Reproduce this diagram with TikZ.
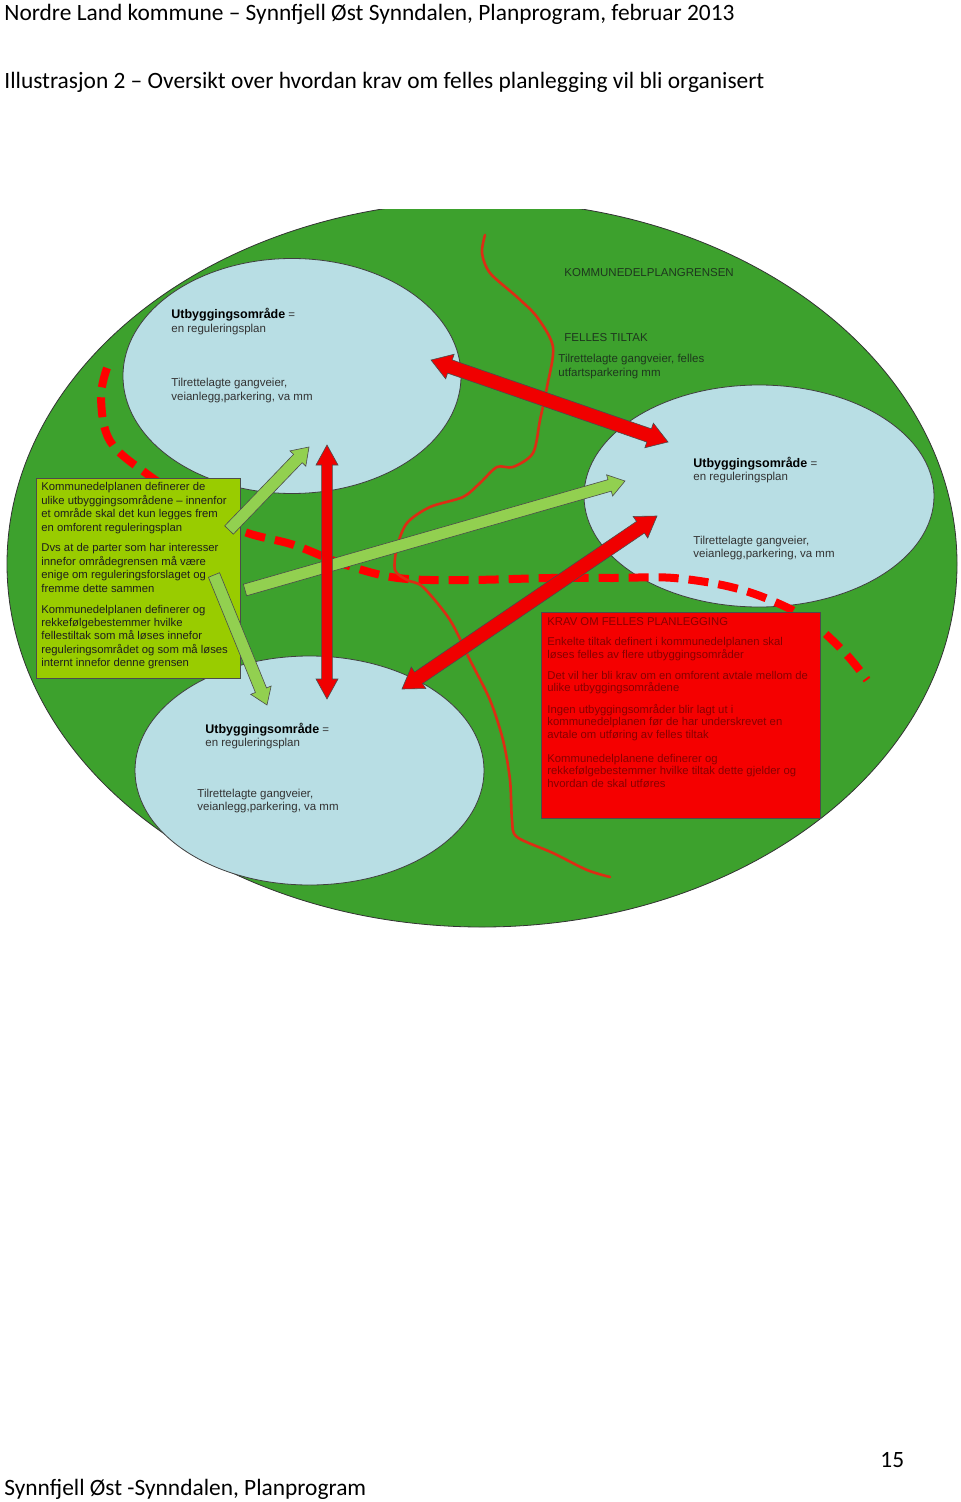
\documentclass[tikz,border=0pt]{standalone}
\usepackage{fontspec}
\setmainfont{Liberation Sans}
\newfontfamily\calfont{Carlito}
\usetikzlibrary{calc,shapes.geometric}
\definecolor{outergreen}{RGB}{61,161,45}
\definecolor{areablue}{RGB}{184,222,228}
\definecolor{boxgreen}{RGB}{153,204,0}
\definecolor{boxred}{RGB}{245,0,0}
\definecolor{arrowgreen}{RGB}{146,208,80}
\definecolor{arrowred}{RGB}{240,0,0}
\definecolor{linered}{RGB}{220,45,20}
\definecolor{txtgray}{RGB}{50,50,50}
\definecolor{txtdark}{RGB}{30,30,30}
\definecolor{txtred}{RGB}{135,0,0}
\definecolor{txtgreen}{RGB}{30,55,30}
% single block arrow: start, tip, half shaft, half head, head length, style
\newcommand\singleblockarrow[6]{%
  \coordinate (#2-hb) at ($(#2)!#5!(#1)$);
  \filldraw[#6] ($(#1)!#3!90:(#2)$) -- ($(#2-hb)!#3!90:(#2)$) -- ($(#2-hb)!#4!90:(#2)$) -- (#2)
    -- ($(#2-hb)!#4!-90:(#2)$) -- ($(#2-hb)!#3!-90:(#2)$) -- ($(#1)!#3!-90:(#2)$) -- cycle;
}
% double block arrow: tip1, tip2, half shaft, half head, head length, style
\newcommand\doubleblockarrow[6]{%
  \coordinate (#1-ha) at ($(#1)!#5!(#2)$);
  \coordinate (#2-hb) at ($(#2)!#5!(#1)$);
  \filldraw[#6] (#1) -- ($(#1-ha)!#4!90:(#2)$) -- ($(#1-ha)!#3!90:(#2)$) -- ($(#2-hb)!#3!90:(#2)$)
    -- ($(#2-hb)!#4!90:(#2)$) -- (#2) -- ($(#2-hb)!#4!-90:(#2)$) -- ($(#2-hb)!#3!-90:(#2)$)
    -- ($(#1-ha)!#3!-90:(#2)$) -- ($(#1-ha)!#4!-90:(#2)$) -- cycle;
}
\begin{document}
\begin{tikzpicture}[x=0.5pt,y=-0.5pt,
  zone/.style={ellipse, draw=black!75, line width=0.4pt, fill=areablue, inner sep=0},
  lbl/.style={inner sep=0, anchor=base west, align=left, text=txtgray, font=\fontsize{5.75}{6.75}\selectfont},
  boxtxt/.style={inner sep=0, anchor=base west, align=left, font=\fontsize{5.65}{6.72}\selectfont},
  redtxt/.style={boxtxt, text=txtred, font=\fontsize{5.65}{6.45}\selectfont},
  redarrow/.style={fill=arrowred, draw=black!70, line width=0.3pt},
  greenarrow/.style={fill=arrowgreen, draw=black!70, line width=0.3pt},
  hdr/.style={inner sep=0, anchor=base west, font=\calfont\fontsize{11.7}{14}\selectfont},
  boxshape/.style={draw=black!70, line width=0.5pt, inner sep=0, anchor=north west}]
\useasboundingbox (0,0) rectangle (960,1502);
\fill[white] (0,0) rectangle (960,1502);

% header and footer
\node[hdr] (head1) at (4,21) {Nordre Land kommune – Synnfjell Øst Synndalen, Planprogram, februar 2013};
\node[hdr] (head2) at (4,89) {Illustrasjon 2 – Oversikt over hvordan krav om felles planlegging vil bli organisert};
\node[hdr] (foot) at (4,1495) {Synnfjell Øst -Synndalen, Planprogram};
\node[hdr] (pageno) at (880,1467) {15};

% outer area
\begin{scope}
  \clip (0,210) rectangle (960,1000);
  \node[ellipse, draw=black!80, fill=outergreen, line width=0.4pt, inner sep=0,
        minimum width=475pt, minimum height=363pt] (outer) at (482,564) {};
\end{scope}

% development areas
\node[zone, minimum width=169pt, minimum height=117.5pt] (tl) at (292,376) {};
\node[zone, minimum width=175pt, minimum height=111pt] (rt) at (759,496) {};
\node[zone, minimum width=174.5pt, minimum height=114.5pt] (bt) at (309.5,770.5) {};

% dashed boundary
\draw[red, line width=4pt, dash pattern=on 10pt off 5pt] plot[smooth, tension=0.6] coordinates
  {(107,368) (101,398) (110,441) (147,474) (195,505) (242,531) (294,545) (343,564) (398,578)
   (466,580) (551,578) (613,578) (674,578) (735,588) (784,606) (815,625) (846,654) (867,680)};

% red line (felles tiltak)
\draw[linered, line width=1.3pt, line cap=round, line join=round] plot[smooth, tension=0.5] coordinates
  {(485,235) (482,253) (490,273) (517,297) (537,317) (553,347) (547,387) (540,420) (533,453)
   (513,467) (497,467) (480,483) (463,497) (430,507) (407,523) (397,547) (395,570) (407,580)
   (423,587) (450,620) (470,660) (490,700) (503,740) (510,780) (512,820) (517,837) (553,853)
   (587,870) (610,877)};

% boxes
\node[boxshape, fill=boxgreen, minimum width=102pt, minimum height=100pt] (gbox) at (36,477.5) {};
\node[boxshape, fill=boxred, minimum width=139.5pt, minimum height=103pt] (rbox) at (540.5,611.5) {};

% texts in areas (base anchor = baseline of last line)
\node[lbl] (tl-title) at (171,332.5) {{\fontsize{6.25}{6.75}\selectfont\bfseries\color{black}Utbyggingsområde} =\\en reguleringsplan};
\node[lbl] (tl-body) at (171,400.5) {Tilrettelagte gangveier,\\veianlegg,parkering, va mm};
\node[lbl] (rt-title) at (693,480.5) {{\fontsize{6.25}{6.75}\selectfont\bfseries\color{black}Utbyggingsområde} =\\en reguleringsplan};
\node[lbl] (rt-body) at (693,557.5) {Tilrettelagte gangveier,\\veianlegg,parkering, va mm};
\node[lbl] (bt-title) at (205,746.5) {{\fontsize{6.25}{6.75}\selectfont\bfseries\color{black}Utbyggingsområde} =\\en reguleringsplan};
\node[lbl] (bt-body) at (197,810.5) {Tilrettelagte gangveier,\\veianlegg,parkering, va mm};

\node[lbl, text=txtgreen] (kgrense) at (564,277) {KOMMUNEDELPLANGRENSEN};
\node[lbl, text=txtgreen] (felles) at (564,342) {FELLES TILTAK};
\node[lbl, text=txtgreen] (fellesbody) at (558,376.5) {Tilrettelagte gangveier, felles\\utfartsparkering mm};

% green box text
\node[boxtxt, text=txtdark] (gp1) at (41,531.3) {Kommunedelplanen definerer de\\ulike utbyggingsområdene – innenfor\\et område skal det kun legges frem\\en omforent reguleringsplan};
\node[boxtxt, text=txtdark] (gp2) at (41,592.3) {Dvs at de parter som har interesser\\innefor områdegrensen må være\\enige om reguleringsforslaget og\\fremme dette sammen};
\node[boxtxt, text=txtdark] (gp3) at (41,666.8) {Kommunedelplanen definerer  og\\rekkefølgebestemmer hvilke\\fellestiltak som må løses innefor\\reguleringsområdet og som må løses\\internt innefor denne grensen};

% red box text
\node[redtxt] (rp0) at (547,625) {KRAV OM FELLES PLANLEGGING};
\node[redtxt] (rp1) at (547,658.4) {Enkelte tiltak definert i kommunedelplanen skal\\løses felles av flere utbyggingsområder};
\node[redtxt] (rp2) at (547,691.9) {Det vil her bli krav om en omforent avtale mellom de\\ulike utbyggingsområdene};
\node[redtxt] (rp3) at (547,738.8) {Ingen utbyggingsområder blir lagt ut i\\kommunedelplanen før  de har underskrevet en\\avtale om utføring av felles tiltak};
\node[redtxt] (rp4) at (547,787.8) {Kommunedelplanene definerer og\\rekkefølgebestemmer hvilke tiltak dette gjelder og\\hvordan de skal utføres};

% arrow end points
\coordinate (a1s) at (431,360);
\coordinate (a1e) at (668,442);
\coordinate (a2s) at (327,445);
\coordinate (a2e) at (327,699);
\coordinate (a3s) at (402,689);
\coordinate (a3e) at (657,516);
\coordinate (g1s) at (229,530);
\coordinate (g1e) at (309,447);
\coordinate (g2s) at (245,590);
\coordinate (g2e) at (625,481);
\coordinate (g3s) at (214,575);
\coordinate (g3e) at (267,705);

% green arrows
\singleblockarrow{g1s}{g1e}{3pt}{5.5pt}{8pt}{greenarrow}
\singleblockarrow{g2s}{g2e}{3pt}{5.5pt}{8pt}{greenarrow}
\singleblockarrow{g3s}{g3e}{3pt}{5.5pt}{8pt}{greenarrow}

% red arrows
\doubleblockarrow{a1s}{a1e}{3.5pt}{6.5pt}{10pt}{redarrow}
\doubleblockarrow{a2s}{a2e}{2.7pt}{5.5pt}{10pt}{redarrow}
\doubleblockarrow{a3s}{a3e}{3.5pt}{6.5pt}{10pt}{redarrow}
\end{tikzpicture}
\end{document}
